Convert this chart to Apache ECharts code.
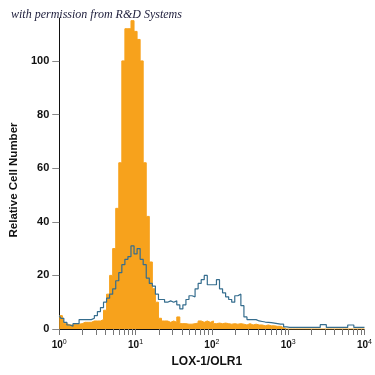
<!DOCTYPE html>
<html>
<head>
<meta charset="utf-8">
<script src="https://cdn.jsdelivr.net/npm/echarts@6/dist/echarts.min.js"></script>
<style>html,body{margin:0;padding:0;background:#fff}#c{width:375px;height:375px}</style>
</head>
<body>
<div id="c"></div>
<script>
// Histogram bins: uniform in log10 space, from 10^0 with step 0.04 decades
const binStartLog = 0;
const binStepLog = 0.04;

// Isotype control (orange, filled)
const isotypeCounts = [
  5, 5, 2, 1.5, 1.5, 1.8, 1.8, 2, 2.5, 2.5,
  2.5, 3, 3, 3, 3.5, 7, 13, 20, 30, 45,
  62, 100, 112, 112, 115, 111, 108, 100, 62, 42,
  25, 15, 10, 4, 3, 3, 2.5, 3, 2.5, 4.5,
  2, 2, 1.8, 1.8, 2, 2.2, 3, 2.5, 3, 2.5,
  3, 2, 2.2, 2, 2.2, 2, 1.8, 2, 1.8, 2,
  1.8, 1.5, 2, 1.5, 1.8, 1.5, 1.5, 1.2, 1.5, 1.2,
  1.2, 1, 1, 0.5, 0, 0, 0, 0, 0, 0,
  0, 0, 0, 0, 0, 0, 0, 0, 0, 0,
  0, 0, 0, 0, 0, 0, 0, 0, 0, 0, 0
];

// LOX-1/OLR1 stained (blue line)
const stainedCounts = [
  5, 4, 2.5, 1.5, 1, 2, 2, 3.5, 3.5, 3.5,
  3.5, 4, 5, 6.5, 8, 10, 11.5, 13, 15, 18,
  21, 24, 26, 27, 31, 28, 30, 26, 24, 19,
  17, 16, 13, 11, 11, 10, 10.5, 10, 10.5, 9,
  7.5, 9, 11, 12.4, 12, 15, 17, 18.4, 20, 16.5,
  16.5, 16.5, 18.4, 15, 13.5, 12, 11, 10, 12.4, 13,
  8.7, 4.5, 3.5, 3.5, 3.5, 3, 2.8, 2.6, 2.5, 2.4,
  2.2, 2, 1.8, 1.8, 0.8, 0.6, 0.6, 0.6, 0.6, 0.6,
  0.6, 0.6, 0.6, 0.6, 0.6, 0.6, 1.6, 1.6, 0.6, 0.6,
  0.6, 0.6, 0.6, 0.6, 0.6, 1.5, 1.5, 0.6, 0.6, 0.6, 0.6
];

const yTickValues = [0, 20, 40, 60, 80, 100];
const xMinorTicks = [
  2, 3, 4, 5, 6, 7, 8, 9,
  20, 30, 40, 50, 60, 70, 80, 90,
  200, 300, 400, 500, 600, 700, 800, 900,
  2000, 3000, 4000, 5000, 6000, 7000, 8000, 9000
];
const xAxisTitle = 'LOX-1/OLR1';
const yAxisTitle = 'Relative Cell Number';
const creditText = 'with permission from R&D Systems';

function toPairs(counts) {
  return counts.map((v, i) => [Math.pow(10, binStartLog + i * binStepLog), v]);
}

const chart = echarts.init(document.getElementById('c'), null, { renderer: 'canvas' });
chart.setOption({
  animation: false,
  backgroundColor: '#ffffff',
  grid: { left: 55, right: 8, top: 18, bottom: 46 },
  graphic: [{
    type: 'text', left: 11, top: 9,
    style: { text: creditText, font: 'italic 12px "Liberation Serif", "DejaVu Serif", serif', fill: '#1c1c3a' }
  }],
  xAxis: {
    type: 'log', logBase: 10, min: 1, max: 10000,
    name: xAxisTitle, nameLocation: 'middle', nameGap: 27,
    nameTextStyle: { fontFamily: '"Liberation Sans", sans-serif', fontWeight: 'bold', fontSize: 12, color: '#111', padding: [0, 10, 0, 0] },
    axisLine: { show: true, lineStyle: { color: '#111', width: 1 } },
    axisTick: { show: true, length: 6, lineStyle: { color: '#777' } },
    splitLine: { show: false },
    axisLabel: {
      margin: 10,
      formatter: function (v) {
        const e = Math.round(Math.log10(v));
        return '{b|10}{s|' + e + '}';
      },
      rich: {
        b: { fontFamily: '"Liberation Sans", sans-serif', fontSize: 10, color: '#111', fontWeight: 'bold' },
        s: { fontFamily: '"Liberation Sans", sans-serif', fontSize: 7, color: '#111', padding: [0, 0, 5, 0] }
      }
    }
  },
  yAxis: {
    type: 'value', min: 0, max: 116,
    name: yAxisTitle, nameLocation: 'middle', nameGap: 38, nameRotate: 90,
    nameTextStyle: { fontFamily: '"Liberation Sans", sans-serif', fontWeight: 'bold', fontSize: 11.5, color: '#111', padding: [0, 13, 0, 0] },
    axisLine: { show: true, lineStyle: { color: '#111', width: 1 } },
    axisTick: { show: true, length: 7, customValues: yTickValues, lineStyle: { color: '#888' } },
    splitLine: { show: false },
    axisLabel: {
      margin: 10, customValues: yTickValues,
      fontFamily: '"Liberation Sans", sans-serif', fontWeight: 'bold', fontSize: 11, color: '#111'
    }
  },
  series: [
    {
      name: 'Isotype', type: 'line', step: 'middle', showSymbol: false, symbol: 'none',
      data: toPairs(isotypeCounts),
      lineStyle: { color: '#f7a21c', width: 1 },
      itemStyle: { color: '#f7a21c' },
      areaStyle: { color: '#f7a21c', opacity: 1 },
      z: 2
    },
    {
      name: 'LOX-1/OLR1', type: 'line', step: 'middle', showSymbol: false, symbol: 'none',
      data: toPairs(stainedCounts),
      lineStyle: { color: '#356d8e', width: 1.2 },
      itemStyle: { color: '#356d8e' },
      z: 3
    },
    {
      name: 'minorTicks', type: 'custom', coordinateSystem: 'cartesian2d', clip: false, silent: true,
      data: xMinorTicks.map(v => [v, 0]),
      renderItem: function (params, api) {
        const p = api.coord([api.value(0), 0]);
        return {
          type: 'line',
          shape: { x1: Math.round(p[0]) + 0.5, y1: p[1], x2: Math.round(p[0]) + 0.5, y2: p[1] + 6 },
          style: { stroke: '#777', lineWidth: 1 }
        };
      },
      z: 1
    }
  ]
});
</script>
</body>
</html>
